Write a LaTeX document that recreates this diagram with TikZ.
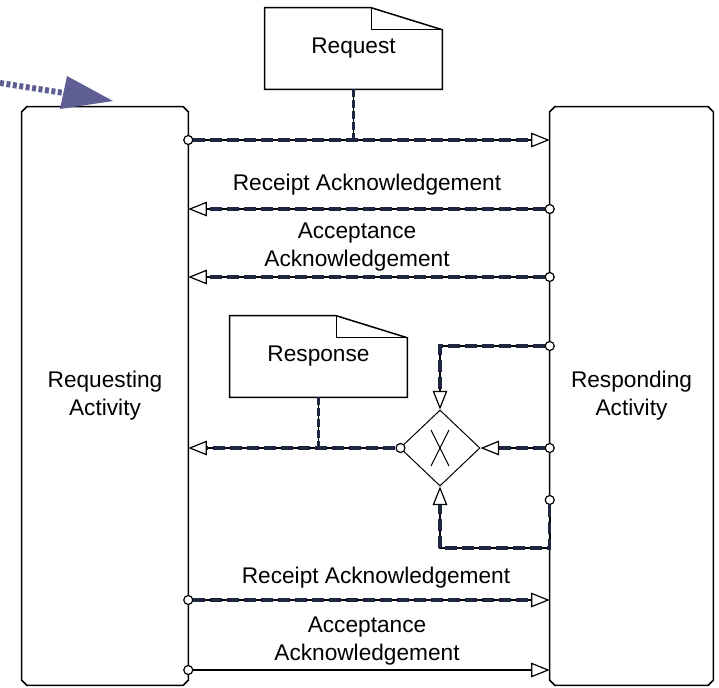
\documentclass[tikz,border=0pt]{standalone}
\usepackage{fontspec}
\setmainfont{Liberation Sans}
\usetikzlibrary{arrows.meta,shapes.geometric}
\definecolor{linknavy}{RGB}{30,38,64}
\definecolor{flowblue}{RGB}{94,94,148}

% one drawing unit is 0.75pt
\begin{document}
\begin{tikzpicture}[x=0.75pt,y=-0.75pt,
  every node/.style={font=\fontsize{17}{21}\selectfont, align=center},
  activity/.style={rectangle, draw=none, inner sep=0, minimum height=433.5pt},
  boxline/.style={line width=1.125pt, line join=miter},
  docbox/.style={draw=none, inner sep=0, minimum width=132.75pt, minimum height=60.75pt},
  docline/.style={line width=1.125pt, line join=miter},
  port/.style={circle, draw, fill=white, line width=0.9pt, minimum size=6.75pt, inner sep=0},
  gatebox/.style={diamond, draw, line width=0.75pt, minimum width=60pt, minimum height=57pt, inner sep=0},
  plainflow/.style={draw=black, line width=1.2pt,
    -{Triangle[open, length=14pt, width=11pt, line width=0.9pt]}},
  flow/.style={plainflow,
    postaction={draw=linknavy, line width=2.5pt, dash pattern=on 9pt off 3.75pt, shorten >=14pt, -}},
  link/.style={draw=black, line width=1pt,
    postaction={draw=linknavy, line width=2.8pt, dash pattern=on 6pt off 2.25pt}}
]
\useasboundingbox (0,0) rectangle (719,687);

% activities
\node[activity, minimum width=124.5pt] (lbox) at (105,396) {Requesting\\Activity};
\node[activity, minimum width=122.25pt] (rbox) at (631.5,396) {Responding\\Activity};
\foreach \b in {lbox,rbox} {
  \draw[boxline] ([yshift=-3.75pt]\b.north west) -- ([xshift=3.75pt]\b.north west)
    -- ([xshift=-3.75pt]\b.north east) -- ([yshift=-3.75pt]\b.north east)
    -- ([yshift=3.75pt]\b.south east) -- ([xshift=-3.75pt]\b.south east)
    -- ([xshift=3.75pt]\b.south west) -- ([yshift=3.75pt]\b.south west) -- cycle;
}

% business documents
\node[docbox] (request) at (353.5,48.5) {Request};
\node[docbox] (response) at (318.5,356.5) {Response};
\foreach \d in {request,response} {
  \draw[docline] (\d.south west) -- (\d.north west) -- ([xshift=-53.25pt]\d.north east)
    -- ([yshift=-16.5pt]\d.north east) -- (\d.south east) -- cycle;
  \draw[docline] ([xshift=-53.25pt]\d.north east) |- ([yshift=-16.5pt]\d.north east);
}

% decision
\node[gatebox] (gate) at (440,448) {};
\draw[line width=0.75pt] (gate.center) ++(-9,-18) -- ++(18,36);
\draw[line width=0.75pt] (gate.center) ++(9,-18) -- ++(-18,36);

% ports
\node[port] (p1) at (lbox.east |- 0,140) {};
\node[port] (p2) at (rbox.west |- 0,209) {};
\node[port] (p3) at (rbox.west |- 0,277) {};
\node[port] (p4) at (rbox.west |- 0,346) {};
\node[port] (p5) at (rbox.west |- 0,448) {};
\node[port] (p6) at ([xshift=0.75pt]gate.west) {};
\node[port] (p7) at (rbox.west |- 0,500) {};
\node[port] (p8) at (lbox.east |- 0,600) {};
\node[port] (p9) at (lbox.east |- 0,670) {};

% transactions
\draw[flow] (p1) -- (rbox.west |- p1);
\coordinate (j1) at (request.south |- p1);
\draw[link] (request.south) -- (j1);
\draw[flow] (p2) -- (lbox.east |- p2);
\draw[flow] (p3) -- (lbox.east |- p3);
\draw[flow] (p4) -| (gate.north);
\draw[flow] (p5) -- (gate.east);
\draw[flow] (p6) -- (lbox.east |- p6);
\coordinate (j2) at (response.south |- p6);
\draw[link] (response.south) -- (j2);
\draw[flow] (p7) -- ++(0,48) -| (gate.south);
\draw[flow] (p8) -- (rbox.west |- p8);
\draw[plainflow] (p9) -- (rbox.west |- p9);

% signal labels
\node (l1) at (367,185) {Receipt Acknowledgement};
\node (l2) at (357,247) {Acceptance\\Acknowledgement};
\node (l3) at (376,578) {Receipt Acknowledgement};
\node (l4) at (367,641) {Acceptance\\Acknowledgement};

% incoming flow marker
\coordinate (f0) at (0,83);
\coordinate (f1) at (64,93);
\draw[flowblue, line width=4.5pt, dash pattern=on 3pt off 1.875pt] (f0) -- (f1);
\fill[flowblue] (67,76) -- (60,109) -- (113,101) -- cycle;
\end{tikzpicture}
\end{document}
